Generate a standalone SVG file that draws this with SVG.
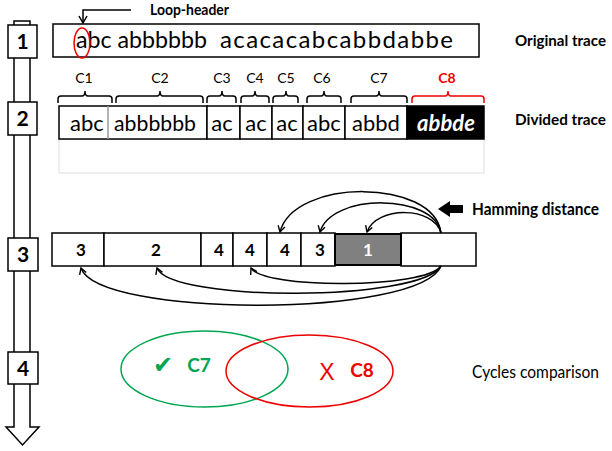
<svg xmlns="http://www.w3.org/2000/svg" width="612" height="451" viewBox="0 0 612 451">
<defs>
<marker id="v" markerWidth="10" markerHeight="10" refX="8" refY="5" orient="auto" markerUnits="userSpaceOnUse">
<path d="M2,1.5 L8,5 L2,8.5" fill="none" stroke="#000" stroke-width="1.4"/>
</marker>
<style>
.b{fill:#fff;stroke:#000;stroke-width:1.5}
.t{font-family:Lato,"Liberation Sans",sans-serif}
.bd{font-weight:bold}
.tr{font-family:Lato,"Liberation Sans",sans-serif;font-size:22px;text-anchor:middle}
.cl{font-family:Lato,"Liberation Sans",sans-serif;font-size:14px;text-anchor:middle}
.br{fill:none;stroke:#000;stroke-width:1.5}
.n{font-family:Lato,"Liberation Sans",sans-serif;font-size:17px;font-weight:bold;text-anchor:middle}
.st{font-family:Lato,"Liberation Sans",sans-serif;font-size:21px;font-weight:bold;text-anchor:middle}
.arc{fill:none;stroke:#000;stroke-width:1.5;marker-end:url(#v)}
.lab{font-family:Lato,"Liberation Sans",sans-serif;font-size:17px}
</style>
</defs>
<rect width="612" height="451" fill="#fff"/>

<g id="timeline">
<path d="M14,21 H30 V427 H39 L22.5,445 L6,427 H14 Z" fill="#fff" stroke="#000" stroke-width="1.5"/>
<rect class="b" x="8" y="25" width="29" height="33"/>
<text class="st" x="22.5" y="49">1</text>
<rect class="b" x="8" y="102" width="29" height="33"/>
<text class="st" x="22.5" y="126">2</text>
<rect class="b" x="8" y="238" width="30" height="33"/>
<text class="st" x="23" y="262">3</text>
<rect class="b" x="8" y="352" width="30" height="32"/>
<text class="st" x="23" y="376">4</text>
</g>

<g id="original-trace">
<rect class="b" x="53" y="24" width="426" height="33"/>
<text class="t" x="76" y="48" font-size="24" textLength="131" lengthAdjust="spacingAndGlyphs">abc abbbbbb</text>
<text class="t" x="220" y="48" font-size="24" textLength="233" lengthAdjust="spacing">acacacabcabbdabbe</text>
<ellipse cx="82" cy="43" rx="8" ry="15" fill="none" stroke="#e00" stroke-width="1.5"/>
<text class="t bd" x="515" y="46" font-size="16" textLength="91" lengthAdjust="spacingAndGlyphs">Original trace</text>
</g>

<g id="loop-header">
<text class="t bd" x="150" y="15" font-size="16" textLength="79" lengthAdjust="spacingAndGlyphs">Loop-header</text>
<path d="M131,10 H83 V22" fill="none" stroke="#000" stroke-width="1.5"/>
<path d="M79,16 L83,23 L87,16" fill="none" stroke="#000" stroke-width="1.5"/>
</g>

<g id="divided-trace">
<rect x="59" y="139" width="425" height="34" fill="none" stroke="#ddd" stroke-width="1"/>
<path class="br" d="M58,103 V99 Q58,96 61,96 H82 Q85,96 85,91 Q85,96 88,96 H109 Q112,96 112,99 V103"/>
<path class="br" d="M116,103 V99 Q116,96 119,96 H157 Q160,96 160,91 Q160,96 163,96 H200 Q203,96 203,99 V103"/>
<path class="br" d="M207,103 V99 Q207,96 210,96 H219 Q222,96 222,91 Q222,96 225,96 H233 Q236,96 236,99 V103"/>
<path class="br" d="M241,103 V99 Q241,96 244,96 H252 Q255,96 255,91 Q255,96 258,96 H266 Q269,96 269,99 V103"/>
<path class="br" d="M273,103 V99 Q273,96 276,96 H283 Q286,96 286,91 Q286,96 289,96 H295 Q298,96 298,99 V103"/>
<path class="br" d="M307,103 V99 Q307,96 310,96 H321 Q324,96 324,91 Q324,96 327,96 H338 Q341,96 341,99 V103"/>
<path class="br" d="M351,103 V99 Q351,96 354,96 H376 Q379,96 379,91 Q379,96 382,96 H404 Q407,96 407,99 V103"/>
<path d="M412,103 V99 Q412,96 415,96 H445 Q448,96 448,91 Q448,96 451,96 H481 Q484,96 484,99 V103" fill="none" stroke="#e00" stroke-width="1.5"/>
<text class="cl" x="84" y="83">C1</text>
<text class="cl" x="160" y="83">C2</text>
<text class="cl" x="222" y="83">C3</text>
<text class="cl" x="255" y="83">C4</text>
<text class="cl" x="286" y="83">C5</text>
<text class="cl" x="322" y="83">C6</text>
<text class="cl" x="379" y="83">C7</text>
<text class="cl" x="447" y="83" fill="#e00" font-weight="bold">C8</text>
<rect class="b" x="59" y="106" width="148" height="33"/>
<line x1="108" y1="106" x2="108" y2="139" stroke="#999" stroke-width="1.5"/>
<rect class="b" x="207" y="106" width="33" height="33"/>
<rect class="b" x="240" y="106" width="32" height="33"/>
<rect class="b" x="272" y="106" width="31" height="33"/>
<rect class="b" x="303" y="106" width="42" height="33"/>
<rect class="b" x="345" y="106" width="62" height="33"/>
<rect x="407" y="106" width="77" height="33" fill="#000" stroke="#000" stroke-width="1.5"/>
<text class="tr" x="87" y="131">abc</text>
<text class="tr" x="155" y="131" textLength="82" lengthAdjust="spacingAndGlyphs">abbbbbb</text>
<text class="tr" x="222" y="131">ac</text>
<text class="tr" x="256" y="131">ac</text>
<text class="tr" x="287" y="131">ac</text>
<text class="tr" x="324" y="131">abc</text>
<text class="tr" x="376" y="131">abbd</text>
<text class="tr" x="446" y="131" fill="#fff" font-weight="bold" font-style="italic">abbde</text>
<text class="t bd" x="515" y="125" font-size="16" textLength="91" lengthAdjust="spacingAndGlyphs">Divided trace</text>
</g>

<g id="hamming-row">
<rect class="b" x="52" y="233" width="52" height="33"/>
<rect class="b" x="104" y="233" width="97" height="33"/>
<rect class="b" x="201" y="233" width="32" height="33"/>
<rect class="b" x="233" y="233" width="34" height="33"/>
<rect class="b" x="267" y="233" width="34" height="33"/>
<rect class="b" x="301" y="233" width="34" height="33"/>
<rect class="b" x="401" y="233" width="75" height="33"/>
<rect x="335" y="234" width="66" height="31" fill="#808080" stroke="#000" stroke-width="2"/>
<text class="n" x="81" y="256">3</text>
<text class="n" x="156" y="256">2</text>
<text class="n" x="219" y="256">4</text>
<text class="n" x="250" y="256">4</text>
<text class="n" x="285" y="256">4</text>
<text class="n" x="320" y="256">3</text>
<text class="n" x="368" y="256" fill="#fff">1</text>
</g>

<g id="connectors">
<path class="arc" d="M441,233 C434,178 294,178 280,232"/>
<path class="arc" d="M441,233 C434,193 331,193 320,232"/>
<path class="arc" d="M441,233 C434,206 376,206 367,232"/>
<path class="arc" d="M441,266 C420,318 98,318 81,268"/>
<path class="arc" d="M441,266 C420,302 170,302 157,268"/>
<path class="arc" d="M441,266 C425,289 262,289 251,268"/>
</g>

<g id="hamming-label">
<path d="M438,209 L450,201 V205 H463 V213 H450 V217 Z" fill="#000"/>
<text class="t bd" x="472" y="215" font-size="17" textLength="127" lengthAdjust="spacingAndGlyphs">Hamming distance</text>
</g>

<g id="comparison">
<ellipse cx="204.5" cy="369" rx="83.5" ry="38" fill="none" stroke="#00a651" stroke-width="1.5"/>
<ellipse cx="309.5" cy="371" rx="83.5" ry="36" fill="none" stroke="#e00" stroke-width="1.5"/>
<text x="163" y="373" font-family="'DejaVu Sans',sans-serif" font-size="24" fill="#00a651" text-anchor="middle">✔</text>
<text class="t bd" x="199" y="372" font-size="19" fill="#00a651" text-anchor="middle">C7</text>
<text x="327" y="380" font-family="'Liberation Sans',sans-serif" font-size="23" fill="#e00" text-anchor="middle">X</text>
<text class="t bd" x="362" y="377" font-size="19" fill="#e00" text-anchor="middle">C8</text>
<text class="lab" x="472" y="378" textLength="127" lengthAdjust="spacingAndGlyphs">Cycles comparison</text>
</g>
</svg>
